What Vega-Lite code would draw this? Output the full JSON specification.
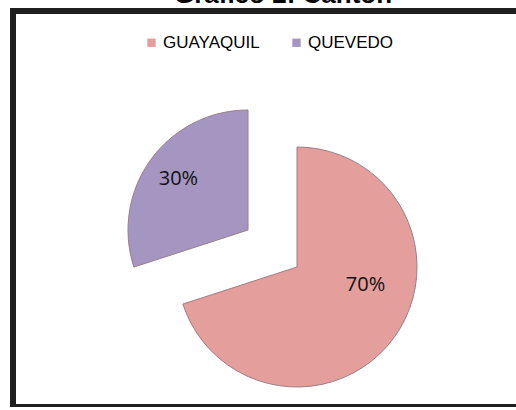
{
  "$schema": "https://vega.github.io/schema/vega-lite/v6.json",
  "width": 568,
  "height": 396,
  "autosize": {"type": "none"},
  "padding": {"left": 13, "top": 11, "right": 0, "bottom": 0},
  "background": "white",
  "view": {"stroke": "#1f1f1f", "strokeWidth": 6},
  "title": {
    "text": "Gráfico 2: Cantón",
    "font": "Liberation Sans",
    "fontSize": 26,
    "fontWeight": "bold",
    "color": "#000000",
    "anchor": "middle",
    "frame": "group",
    "dx": -14,
    "offset": -23,
    "baseline": "bottom"
  },
  "data": {
    "values": [
      {"canton": "GUAYAQUIL", "pct": 70, "label": "70%"},
      {"canton": "QUEVEDO", "pct": 30, "label": "30%"}
    ]
  },
  "encoding": {
    "theta": {"field": "pct", "type": "quantitative", "stack": true},
    "order": {"field": "pct", "type": "quantitative", "sort": "descending"}
  },
  "layer": [
    {
      "mark": {
        "type": "arc",
        "outerRadius": 120,
        "stroke": "#9a7f86",
        "strokeWidth": 1,
        "xOffset": {"expr": "datum.canton === 'QUEVEDO' ? -49 : 0"},
        "yOffset": {"expr": "datum.canton === 'QUEVEDO' ? 21 : 58"}
      },
      "encoding": {
        "color": {
          "field": "canton",
          "type": "nominal",
          "scale": {"domain": ["GUAYAQUIL", "QUEVEDO"], "range": ["#e49e9c", "#a496c0"]},
          "legend": {
            "orient": "none",
            "legendX": 130,
            "legendY": 23,
            "direction": "horizontal",
            "title": null,
            "symbolType": "square",
            "symbolSize": 70,
            "symbolStrokeWidth": 0,
            "labelFont": "Liberation Sans",
            "labelFontSize": 17,
            "labelColor": "#000000",
            "columnPadding": 28,
            "labelOffset": 3,
            "padding": 0
          }
        }
      }
    },
    {
      "mark": {
        "type": "text",
        "radius": 86,
        "font": "Open Sans",
        "fontSize": 20,
        "color": "#111111",
        "align": "center",
        "baseline": "middle",
        "xOffset": {"expr": "datum.canton === 'QUEVEDO' ? -49 : -1"},
        "yOffset": {"expr": "datum.canton === 'QUEVEDO' ? 21 : 25"}
      },
      "encoding": {
        "text": {"field": "label", "type": "nominal"}
      }
    }
  ]
}
